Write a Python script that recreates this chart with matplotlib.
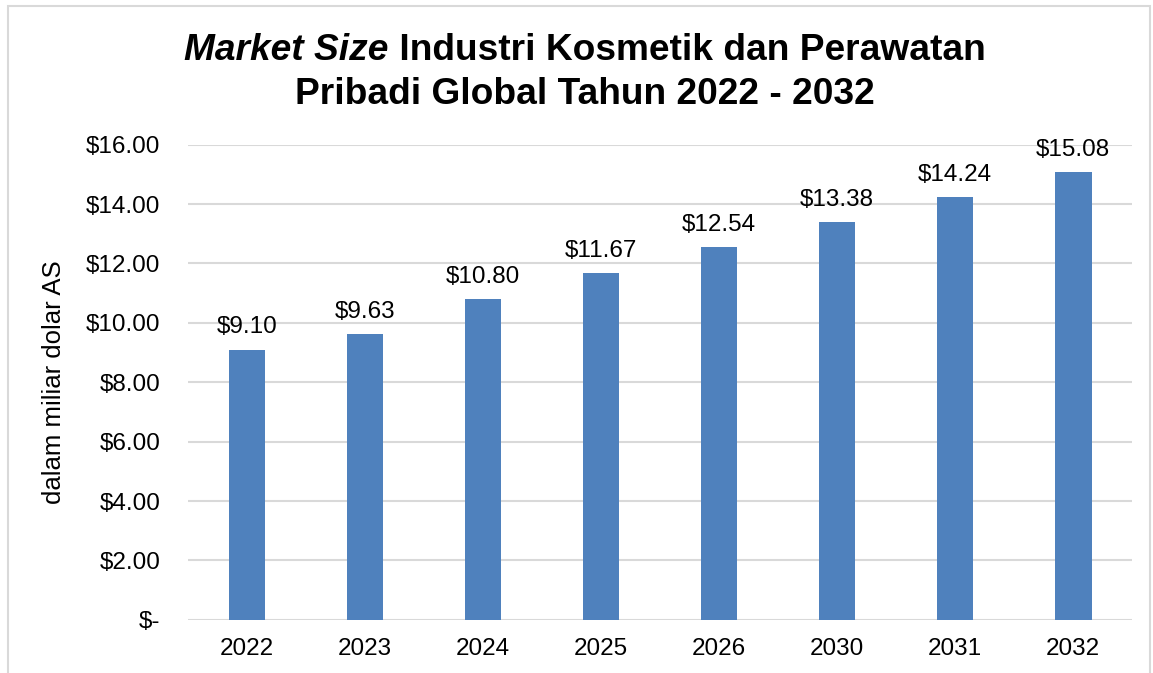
import matplotlib.pyplot as plt
from matplotlib.patches import Rectangle

plt.rcParams['font.family'] = ['Liberation Sans', 'DejaVu Sans']

# Data
years = ['2022', '2023', '2024', '2025', '2026', '2030', '2031', '2032']
market_size = [9.10, 9.63, 10.80, 11.67, 12.54, 13.38, 14.24, 15.08]
y_ticks = [0, 2, 4, 6, 8, 10, 12, 14, 16]
y_tick_labels = ['$-', '$2.00', '$4.00', '$6.00', '$8.00', '$10.00', '$12.00', '$14.00', '$16.00']

bar_color = '#4F81BD'
grid_color = '#D9D9D9'

fig = plt.figure(figsize=(11.53, 6.73), dpi=100)
ax = fig.add_axes([0.163, 0.079, 0.819, 0.706])

x = range(len(years))
bars = ax.bar(x, market_size, width=0.31, color=bar_color, zorder=3)

for i, v in enumerate(market_size):
    ax.annotate(f'${v:.2f}', (i, v), xytext=(0, 8), textcoords='offset points',
                ha='center', va='bottom', fontsize=17.5)

ax.set_xlim(-0.5, len(years) - 0.5)
ax.set_ylim(0, 16)
ax.set_xticks(list(x))
ax.set_xticklabels(years, fontsize=17.5)
ax.set_yticks(y_ticks)
ax.set_yticklabels(y_tick_labels, fontsize=17.5)
ax.tick_params(axis='both', length=0)
ax.tick_params(axis='y', pad=20)
ax.tick_params(axis='x', pad=13)
ax.grid(axis='y', color=grid_color, linewidth=1.5, zorder=0)
for s in ax.spines.values():
    s.set_visible(False)
ax.set_ylabel('dalam miliar dolar AS', fontsize=18.5, labelpad=14)

# title: mixed bold italic + bold on line 1
fig.canvas.draw()
r = fig.canvas.get_renderer()
cx = 585 / 1153
y1 = 1 - 60 / 673
y2 = 1 - 104 / 673
t_a = fig.text(0, y1, 'Market Size', fontsize=26.7, fontweight='bold', fontstyle='italic',
               ha='left', va='baseline')
t_b = fig.text(0, y1, ' Industri Kosmetik dan Perawatan', fontsize=26.7, fontweight='bold',
               ha='left', va='baseline')
wa = t_a.get_window_extent(r).width / fig.bbox.width
wb = t_b.get_window_extent(r).width / fig.bbox.width
start = cx - (wa + wb) / 2
t_a.set_x(start)
t_b.set_x(start + wa)
fig.text(cx, y2, 'Pribadi Global Tahun 2022 - 2032', fontsize=26.7, fontweight='bold',
         ha='center', va='baseline')

# outer chart border
fig.patches.append(Rectangle((8 / 1153, -0.05), 1142 / 1153, 1 - 6 / 673 + 0.05,
                             transform=fig.transFigure, fill=False,
                             edgecolor='#D9D9D9', linewidth=1.5))

fig.savefig('out.png', dpi=100)
